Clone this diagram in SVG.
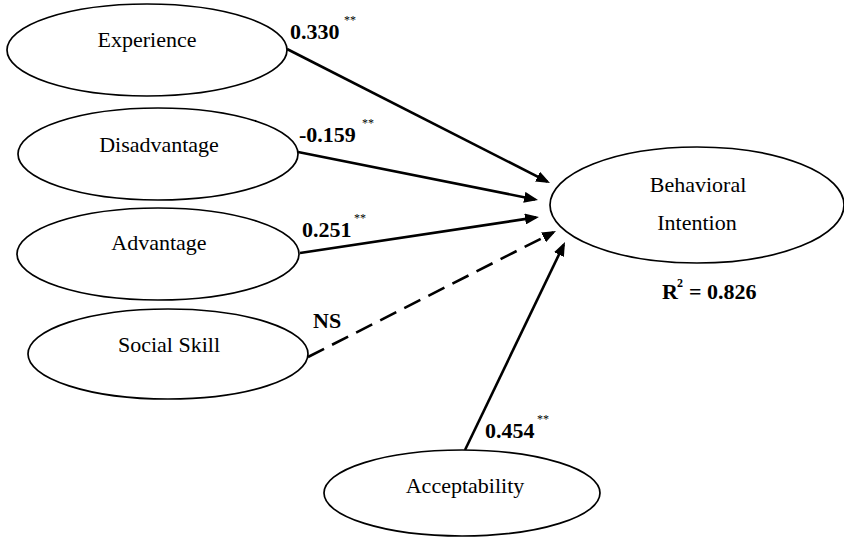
<svg xmlns="http://www.w3.org/2000/svg" width="844" height="544" viewBox="0 0 844 544">
<style>
.node ellipse{fill:#fff;stroke:#000;stroke-width:1.7}
.lbl{font-family:"Liberation Serif","Times New Roman",serif;font-size:22px;fill:#000;text-anchor:middle}
.coef{font-family:"Liberation Serif","Times New Roman",serif;font-size:22px;font-weight:bold;fill:#000}
.sup{font-family:"Liberation Serif","Times New Roman",serif;font-size:12px;fill:#000}
.edge{stroke:#000;stroke-width:2.6;fill:none;marker-end:url(#ah)}
.dash{stroke-dasharray:18 9}
</style>
<defs>
<marker id="ah" markerUnits="userSpaceOnUse" markerWidth="14" markerHeight="11" refX="11" refY="5.5" orient="auto">
<path d="M0,0 L14,5.5 L0,11 z" fill="#000"/>
</marker>
</defs>
<rect width="844" height="544" fill="#fff"/>
<g id="connectors">
<line class="edge" x1="287" y1="49" x2="547.3" y2="181.6"/>
<line class="edge" x1="298" y1="152" x2="535.1" y2="199.4"/>
<line class="edge" x1="300" y1="253" x2="536" y2="217.4"/>
<line class="edge dash" x1="308" y1="357" x2="553.3" y2="232.4"/>
<line class="edge" x1="465" y1="450" x2="563.7" y2="244.7"/>
</g>
<g id="experience" class="node"><ellipse cx="147" cy="50" rx="140" ry="46"/><text class="lbl" x="147" y="47">Experience</text></g>
<g id="disadvantage" class="node"><ellipse cx="158" cy="154" rx="140" ry="46"/><text class="lbl" x="159" y="152">Disadvantage</text></g>
<g id="advantage" class="node"><ellipse cx="158" cy="254" rx="141" ry="46"/><text class="lbl" x="159" y="250">Advantage</text></g>
<g id="socialskill" class="node"><ellipse cx="168" cy="354" rx="140" ry="45"/><text class="lbl" x="169" y="352">Social Skill</text></g>
<g id="acceptability" class="node"><ellipse cx="462" cy="493" rx="138" ry="43"/><text class="lbl" x="465" y="493">Acceptability</text></g>
<g id="behavioral" class="node"><ellipse cx="697" cy="205" rx="147" ry="58"/><text class="lbl" x="698" y="192">Behavioral</text><text class="lbl" x="697" y="230">Intention</text></g>
<g id="labels">
<text class="coef" x="290" y="39">0.330</text><text class="sup" x="344" y="24">**</text>
<text class="coef" x="299" y="142">-0.159</text><text class="sup" x="362" y="127">**</text>
<text class="coef" x="302" y="237">0.251</text><text class="sup" x="354" y="222">**</text>
<text class="coef" x="313" y="328">NS</text>
<text class="coef" x="485" y="438">0.454</text><text class="sup" x="537" y="423">**</text>
<text class="coef" x="662" y="299">R</text><text class="sup" x="677" y="287" font-weight="bold" font-size="13">2</text><text class="coef" x="689" y="299">= 0.826</text>
</g>
</svg>
